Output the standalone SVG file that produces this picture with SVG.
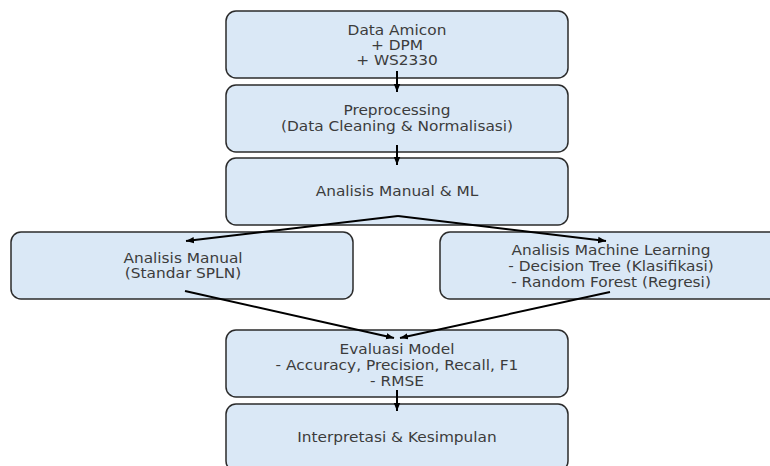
<svg xmlns="http://www.w3.org/2000/svg" width="770" height="466" viewBox="0 0 770 466">
<defs>
<marker id="ah" viewBox="0 0 10 10" refX="10" refY="5" markerWidth="8" markerHeight="8" orient="auto" markerUnits="userSpaceOnUse">
<path d="M0,1 L10,5 L0,9 z" fill="#000"/>
</marker>
<style>
.box{fill:#dae8f6;stroke:#2b2b2b;stroke-width:1.5}
.t{font-family:"DejaVu Sans",sans-serif;font-size:13.6px;fill:#3c3c3c;text-anchor:middle}
.c{stroke:#000;stroke-width:2;fill:none;marker-end:url(#ah)}
</style>
</defs>
<rect width="770" height="466" fill="#fff"/>
<g id="n1"><rect class="box" x="226" y="11" width="342" height="67" rx="10"/>
<text class="t" transform="translate(397,35) scale(1.13,1)">Data Amicon</text><text class="t" transform="translate(397,50) scale(1.13,1)">+ DPM</text><text class="t" transform="translate(397,65) scale(1.13,1)">+ WS2330</text></g>
<g id="n2"><rect class="box" x="226" y="85" width="342" height="67" rx="10"/>
<text class="t" transform="translate(397,115) scale(1.13,1)">Preprocessing</text><text class="t" transform="translate(397,131) scale(1.13,1)">(Data Cleaning &amp; Normalisasi)</text></g>
<g id="n3"><rect class="box" x="226" y="158" width="342" height="67" rx="10"/>
<text class="t" transform="translate(397,196) scale(1.13,1)">Analisis Manual &amp; ML</text></g>
<g id="n4"><rect class="box" x="11" y="232" width="342" height="67" rx="10"/>
<text class="t" transform="translate(183,263) scale(1.13,1)">Analisis Manual</text><text class="t" transform="translate(183,278) scale(1.13,1)">(Standar SPLN)</text></g>
<g id="n5"><rect class="box" x="440" y="232" width="342" height="67" rx="10"/>
<text class="t" transform="translate(611,255) scale(1.13,1)">Analisis Machine Learning</text><text class="t" transform="translate(611,271) scale(1.13,1)">- Decision Tree (Klasifikasi)</text><text class="t" transform="translate(611,287) scale(1.13,1)">- Random Forest (Regresi)</text></g>
<g id="n6"><rect class="box" x="226" y="330" width="342" height="67" rx="10"/>
<text class="t" transform="translate(397,354) scale(1.13,1)">Evaluasi Model</text><text class="t" transform="translate(397,370) scale(1.13,1)">- Accuracy, Precision, Recall, F1</text><text class="t" transform="translate(397,386) scale(1.13,1)">- RMSE</text></g>
<g id="n7"><rect class="box" x="226" y="404" width="342" height="67" rx="10"/>
<text class="t" transform="translate(397,442) scale(1.13,1)">Interpretasi &amp; Kesimpulan</text></g>
<g id="connectors">
<line class="c" x1="397" y1="71" x2="397" y2="92"/>
<line class="c" x1="397" y1="145" x2="397" y2="165"/>
<line class="c" x1="398" y1="216" x2="186" y2="241"/>
<line class="c" x1="398" y1="216" x2="606" y2="241"/>
<line class="c" x1="185" y1="291" x2="394" y2="338"/>
<line class="c" x1="610" y1="292" x2="400" y2="338"/>
<line class="c" x1="397" y1="390" x2="397" y2="411"/>
</g>
</svg>
